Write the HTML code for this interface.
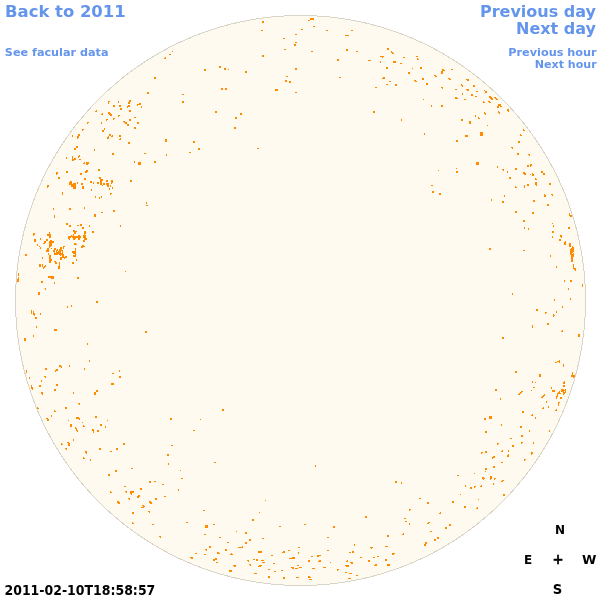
<!DOCTYPE html>
<html lang="en"><head><meta charset="utf-8"><title>Faculae 2011-02-10T18:58:57</title>
<style>
html,body{margin:0;padding:0;background:#fff;width:600px;height:600px;overflow:hidden}
svg{display:block}
text{font-family:"DejaVu Sans","Liberation Sans",sans-serif;font-weight:bold}
.lnk{fill:#6495ed}
.big{font-size:16px}
.sm{font-size:11px}
.blk{fill:#000}
</style></head><body>
<svg width="600" height="600" viewBox="0 0 600 600">
<rect width="600" height="600" fill="#fff"/>
<circle cx="300.5" cy="300.5" r="285.5" fill="#fffaf0" shape-rendering="crispEdges"/>
<path fill="#d9d4c8" shape-rendering="crispEdges" d="M284 15h33v1h-33zM271 16h13v1h-13zM317 16h13v1h-13zM263 17h8v1h-8zM330 17h8v1h-8zM256 18h7v1h-7zM338 18h7v1h-7zM250 19h6v1h-6zM345 19h6v1h-6zM245 20h5v1h-5zM351 20h5v1h-5zM240 21h5v1h-5zM356 21h5v1h-5zM235 22h5v1h-5zM361 22h5v1h-5zM231 23h5v1h-5zM365 23h5v1h-5zM227 24h4v1h-4zM370 24h4v1h-4zM224 25h4v1h-4zM373 25h4v1h-4zM220 26h4v1h-4zM377 26h4v1h-4zM217 27h3v1h-3zM381 27h3v1h-3zM214 28h3v1h-3zM384 28h3v1h-3zM211 29h3v1h-3zM387 29h3v1h-3zM208 30h3v1h-3zM390 30h3v1h-3zM205 31h3v1h-3zM393 31h3v1h-3zM202 32h3v1h-3zM396 32h3v1h-3zM199 33h3v1h-3zM399 33h3v1h-3zM197 34h3v1h-3zM401 34h3v1h-3zM194 35h3v1h-3zM404 35h3v1h-3zM192 36h2v1h-2zM407 36h2v1h-2zM189 37h3v1h-3zM409 37h3v1h-3zM187 38h3v1h-3zM411 38h3v1h-3zM185 39h2v1h-2zM414 39h2v1h-2zM183 40h2v1h-2zM416 40h2v1h-2zM180 41h3v1h-3zM418 41h3v1h-3zM178 42h3v1h-3zM420 42h3v1h-3zM176 43h2v1h-2zM423 43h2v1h-2zM174 44h2v1h-2zM425 44h2v1h-2zM172 45h2v1h-2zM427 45h2v1h-2zM170 46h2v1h-2zM429 46h2v1h-2zM168 47h2v1h-2zM431 47h2v1h-2zM166 48h2v1h-2zM433 48h2v1h-2zM164 49h3v1h-3zM434 49h3v1h-3zM163 50h2v1h-2zM436 50h2v1h-2zM161 51h2v1h-2zM438 51h2v1h-2zM159 52h2v1h-2zM440 52h2v1h-2zM157 53h2v1h-2zM442 53h2v1h-2zM156 54h2v1h-2zM443 54h2v1h-2zM154 55h2v1h-2zM445 55h2v1h-2zM152 56h2v1h-2zM447 56h2v1h-2zM151 57h2v1h-2zM448 57h2v1h-2zM149 58h2v1h-2zM450 58h2v1h-2zM147 59h2v1h-2zM452 59h2v1h-2zM146 60h2v1h-2zM453 60h2v1h-2zM144 61h2v1h-2zM455 61h2v1h-2zM143 62h2v1h-2zM456 62h2v1h-2zM141 63h2v1h-2zM458 63h2v1h-2zM140 64h2v1h-2zM459 64h2v1h-2zM138 65h2v1h-2zM461 65h2v1h-2zM137 66h2v1h-2zM462 66h2v1h-2zM136 67h1v1h-1zM464 67h1v1h-1zM134 68h2v1h-2zM465 68h2v1h-2zM133 69h1v1h-1zM467 69h1v1h-1zM131 70h2v1h-2zM468 70h2v1h-2zM130 71h2v1h-2zM469 71h2v1h-2zM129 72h1v1h-1zM471 72h1v1h-1zM127 73h2v1h-2zM472 73h2v1h-2zM126 74h2v1h-2zM473 74h2v1h-2zM125 75h1v1h-1zM475 75h1v1h-1zM123 76h2v1h-2zM476 76h2v1h-2zM122 77h2v1h-2zM477 77h2v1h-2zM121 78h2v1h-2zM478 78h2v1h-2zM120 79h1v1h-1zM480 79h1v1h-1zM119 80h1v1h-1zM481 80h1v1h-1zM117 81h2v1h-2zM482 81h2v1h-2zM116 82h2v1h-2zM483 82h2v1h-2zM115 83h2v1h-2zM484 83h2v1h-2zM114 84h1v1h-1zM486 84h1v1h-1zM113 85h1v1h-1zM487 85h1v1h-1zM112 86h1v1h-1zM488 86h1v1h-1zM110 87h2v1h-2zM489 87h2v1h-2zM109 88h2v1h-2zM490 88h2v1h-2zM108 89h2v1h-2zM491 89h2v1h-2zM107 90h2v1h-2zM492 90h2v1h-2zM106 91h1v1h-1zM494 91h1v1h-1zM105 92h1v1h-1zM495 92h1v1h-1zM104 93h1v1h-1zM496 93h1v1h-1zM103 94h1v1h-1zM497 94h1v1h-1zM102 95h1v1h-1zM498 95h1v1h-1zM101 96h1v1h-1zM499 96h1v1h-1zM100 97h1v1h-1zM500 97h1v1h-1zM99 98h1v1h-1zM501 98h1v1h-1zM98 99h1v1h-1zM502 99h1v1h-1zM97 100h1v1h-1zM503 100h1v1h-1zM96 101h1v1h-1zM504 101h1v1h-1zM95 102h1v1h-1zM505 102h1v1h-1zM94 103h1v1h-1zM506 103h1v1h-1zM93 104h1v1h-1zM507 104h1v1h-1zM92 105h1v1h-1zM508 105h1v1h-1zM91 106h1v1h-1zM509 106h1v1h-1zM90 107h1v1h-1zM510 107h1v1h-1zM89 108h2v1h-2zM510 108h2v1h-2zM88 109h2v1h-2zM511 109h2v1h-2zM87 110h2v1h-2zM512 110h2v1h-2zM87 111h1v1h-1zM513 111h1v1h-1zM86 112h1v1h-1zM514 112h1v1h-1zM85 113h1v1h-1zM515 113h1v1h-1zM84 114h1v1h-1zM516 114h1v1h-1zM83 115h1v1h-1zM517 115h1v1h-1zM82 116h2v1h-2zM517 116h2v1h-2zM81 117h2v1h-2zM518 117h2v1h-2zM81 118h1v1h-1zM519 118h1v1h-1zM80 119h1v1h-1zM520 119h1v1h-1zM79 120h1v1h-1zM521 120h1v1h-1zM78 121h1v1h-1zM522 121h1v1h-1zM77 122h2v1h-2zM522 122h2v1h-2zM76 123h2v1h-2zM523 123h2v1h-2zM76 124h1v1h-1zM524 124h1v1h-1zM75 125h1v1h-1zM525 125h1v1h-1zM74 126h1v1h-1zM526 126h1v1h-1zM73 127h2v1h-2zM526 127h2v1h-2zM73 128h1v1h-1zM527 128h1v1h-1zM72 129h1v1h-1zM528 129h1v1h-1zM71 130h1v1h-1zM529 130h1v1h-1zM70 131h2v1h-2zM529 131h2v1h-2zM70 132h1v1h-1zM530 132h1v1h-1zM69 133h1v1h-1zM531 133h1v1h-1zM68 134h1v1h-1zM532 134h1v1h-1zM68 135h1v1h-1zM532 135h1v1h-1zM67 136h1v1h-1zM533 136h1v1h-1zM66 137h1v1h-1zM534 137h1v1h-1zM65 138h2v1h-2zM534 138h2v1h-2zM65 139h1v1h-1zM535 139h1v1h-1zM64 140h1v1h-1zM536 140h1v1h-1zM63 141h2v1h-2zM536 141h2v1h-2zM63 142h1v1h-1zM537 142h1v1h-1zM62 143h1v1h-1zM538 143h1v1h-1zM61 144h2v1h-2zM538 144h2v1h-2zM61 145h1v1h-1zM539 145h1v1h-1zM60 146h1v1h-1zM540 146h1v1h-1zM59 147h2v1h-2zM540 147h2v1h-2zM59 148h1v1h-1zM541 148h1v1h-1zM58 149h1v1h-1zM542 149h1v1h-1zM58 150h1v1h-1zM542 150h1v1h-1zM57 151h1v1h-1zM543 151h1v1h-1zM56 152h2v1h-2zM543 152h2v1h-2zM56 153h1v1h-1zM544 153h1v1h-1zM55 154h1v1h-1zM545 154h1v1h-1zM55 155h1v1h-1zM545 155h1v1h-1zM54 156h1v1h-1zM546 156h1v1h-1zM53 157h2v1h-2zM546 157h2v1h-2zM53 158h1v1h-1zM547 158h1v1h-1zM52 159h1v1h-1zM548 159h1v1h-1zM52 160h1v1h-1zM548 160h1v1h-1zM51 161h1v1h-1zM549 161h1v1h-1zM51 162h1v1h-1zM549 162h1v1h-1zM50 163h1v1h-1zM550 163h1v1h-1zM49 164h2v1h-2zM550 164h2v1h-2zM49 165h1v1h-1zM551 165h1v1h-1zM48 166h2v1h-2zM551 166h2v1h-2zM48 167h1v1h-1zM552 167h1v1h-1zM47 168h1v1h-1zM553 168h1v1h-1zM47 169h1v1h-1zM553 169h1v1h-1zM46 170h1v1h-1zM554 170h1v1h-1zM46 171h1v1h-1zM554 171h1v1h-1zM45 172h1v1h-1zM555 172h1v1h-1zM45 173h1v1h-1zM555 173h1v1h-1zM44 174h1v1h-1zM556 174h1v1h-1zM44 175h1v1h-1zM556 175h1v1h-1zM43 176h1v1h-1zM557 176h1v1h-1zM43 177h1v1h-1zM557 177h1v1h-1zM42 178h1v1h-1zM558 178h1v1h-1zM42 179h1v1h-1zM558 179h1v1h-1zM41 180h2v1h-2zM558 180h2v1h-2zM41 181h1v1h-1zM559 181h1v1h-1zM41 182h1v1h-1zM559 182h1v1h-1zM40 183h1v1h-1zM560 183h1v1h-1zM40 184h1v1h-1zM560 184h1v1h-1zM39 185h1v1h-1zM561 185h1v1h-1zM39 186h1v1h-1zM561 186h1v1h-1zM38 187h1v1h-1zM562 187h1v1h-1zM38 188h1v1h-1zM562 188h1v1h-1zM37 189h2v1h-2zM562 189h2v1h-2zM37 190h1v1h-1zM563 190h1v1h-1zM37 191h1v1h-1zM563 191h1v1h-1zM36 192h1v1h-1zM564 192h1v1h-1zM36 193h1v1h-1zM564 193h1v1h-1zM35 194h1v1h-1zM565 194h1v1h-1zM35 195h1v1h-1zM565 195h1v1h-1zM35 196h1v1h-1zM565 196h1v1h-1zM34 197h1v1h-1zM566 197h1v1h-1zM34 198h1v1h-1zM566 198h1v1h-1zM33 199h2v1h-2zM566 199h2v1h-2zM33 200h1v1h-1zM567 200h1v1h-1zM33 201h1v1h-1zM567 201h1v1h-1zM32 202h1v1h-1zM568 202h1v1h-1zM32 203h1v1h-1zM568 203h1v1h-1zM32 204h1v1h-1zM568 204h1v1h-1zM31 205h1v1h-1zM569 205h1v1h-1zM31 206h1v1h-1zM569 206h1v1h-1zM31 207h1v1h-1zM569 207h1v1h-1zM30 208h1v1h-1zM570 208h1v1h-1zM30 209h1v1h-1zM570 209h1v1h-1zM30 210h1v1h-1zM570 210h1v1h-1zM29 211h1v1h-1zM571 211h1v1h-1zM29 212h1v1h-1zM571 212h1v1h-1zM29 213h1v1h-1zM571 213h1v1h-1zM28 214h1v1h-1zM572 214h1v1h-1zM28 215h1v1h-1zM572 215h1v1h-1zM28 216h1v1h-1zM572 216h1v1h-1zM27 217h1v1h-1zM573 217h1v1h-1zM27 218h1v1h-1zM573 218h1v1h-1zM27 219h1v1h-1zM573 219h1v1h-1zM26 220h1v1h-1zM574 220h1v1h-1zM26 221h1v1h-1zM574 221h1v1h-1zM26 222h1v1h-1zM574 222h1v1h-1zM26 223h1v1h-1zM574 223h1v1h-1zM25 224h1v1h-1zM575 224h1v1h-1zM25 225h1v1h-1zM575 225h1v1h-1zM25 226h1v1h-1zM575 226h1v1h-1zM24 227h2v1h-2zM575 227h2v1h-2zM24 228h1v1h-1zM576 228h1v1h-1zM24 229h1v1h-1zM576 229h1v1h-1zM24 230h1v1h-1zM576 230h1v1h-1zM23 231h1v1h-1zM577 231h1v1h-1zM23 232h1v1h-1zM577 232h1v1h-1zM23 233h1v1h-1zM577 233h1v1h-1zM23 234h1v1h-1zM577 234h1v1h-1zM22 235h2v1h-2zM577 235h2v1h-2zM22 236h1v1h-1zM578 236h1v1h-1zM22 237h1v1h-1zM578 237h1v1h-1zM22 238h1v1h-1zM578 238h1v1h-1zM22 239h1v1h-1zM578 239h1v1h-1zM21 240h1v1h-1zM579 240h1v1h-1zM21 241h1v1h-1zM579 241h1v1h-1zM21 242h1v1h-1zM579 242h1v1h-1zM21 243h1v1h-1zM579 243h1v1h-1zM21 244h1v1h-1zM579 244h1v1h-1zM20 245h1v1h-1zM580 245h1v1h-1zM20 246h1v1h-1zM580 246h1v1h-1zM20 247h1v1h-1zM580 247h1v1h-1zM20 248h1v1h-1zM580 248h1v1h-1zM20 249h1v1h-1zM580 249h1v1h-1zM19 250h1v1h-1zM581 250h1v1h-1zM19 251h1v1h-1zM581 251h1v1h-1zM19 252h1v1h-1zM581 252h1v1h-1zM19 253h1v1h-1zM581 253h1v1h-1zM19 254h1v1h-1zM581 254h1v1h-1zM19 255h1v1h-1zM581 255h1v1h-1zM18 256h1v1h-1zM582 256h1v1h-1zM18 257h1v1h-1zM582 257h1v1h-1zM18 258h1v1h-1zM582 258h1v1h-1zM18 259h1v1h-1zM582 259h1v1h-1zM18 260h1v1h-1zM582 260h1v1h-1zM18 261h1v1h-1zM582 261h1v1h-1zM18 262h1v1h-1zM582 262h1v1h-1zM17 263h1v1h-1zM583 263h1v1h-1zM17 264h1v1h-1zM583 264h1v1h-1zM17 265h1v1h-1zM583 265h1v1h-1zM17 266h1v1h-1zM583 266h1v1h-1zM17 267h1v1h-1zM583 267h1v1h-1zM17 268h1v1h-1zM583 268h1v1h-1zM17 269h1v1h-1zM583 269h1v1h-1zM17 270h1v1h-1zM583 270h1v1h-1zM16 271h1v1h-1zM584 271h1v1h-1zM16 272h1v1h-1zM584 272h1v1h-1zM16 273h1v1h-1zM584 273h1v1h-1zM16 274h1v1h-1zM584 274h1v1h-1zM16 275h1v1h-1zM584 275h1v1h-1zM16 276h1v1h-1zM584 276h1v1h-1zM16 277h1v1h-1zM584 277h1v1h-1zM16 278h1v1h-1zM584 278h1v1h-1zM16 279h1v1h-1zM584 279h1v1h-1zM16 280h1v1h-1zM584 280h1v1h-1zM16 281h1v1h-1zM584 281h1v1h-1zM16 282h1v1h-1zM584 282h1v1h-1zM16 283h1v1h-1zM584 283h1v1h-1zM15 284h1v1h-1zM585 284h1v1h-1zM15 285h1v1h-1zM585 285h1v1h-1zM15 286h1v1h-1zM585 286h1v1h-1zM15 287h1v1h-1zM585 287h1v1h-1zM15 288h1v1h-1zM585 288h1v1h-1zM15 289h1v1h-1zM585 289h1v1h-1zM15 290h1v1h-1zM585 290h1v1h-1zM15 291h1v1h-1zM585 291h1v1h-1zM15 292h1v1h-1zM585 292h1v1h-1zM15 293h1v1h-1zM585 293h1v1h-1zM15 294h1v1h-1zM585 294h1v1h-1zM15 295h1v1h-1zM585 295h1v1h-1zM15 296h1v1h-1zM585 296h1v1h-1zM15 297h1v1h-1zM585 297h1v1h-1zM15 298h1v1h-1zM585 298h1v1h-1zM15 299h1v1h-1zM585 299h1v1h-1zM15 300h1v1h-1zM585 300h1v1h-1zM15 301h1v1h-1zM585 301h1v1h-1zM15 302h1v1h-1zM585 302h1v1h-1zM15 303h1v1h-1zM585 303h1v1h-1zM15 304h1v1h-1zM585 304h1v1h-1zM15 305h1v1h-1zM585 305h1v1h-1zM15 306h1v1h-1zM585 306h1v1h-1zM15 307h1v1h-1zM585 307h1v1h-1zM15 308h1v1h-1zM585 308h1v1h-1zM15 309h1v1h-1zM585 309h1v1h-1zM15 310h1v1h-1zM585 310h1v1h-1zM15 311h1v1h-1zM585 311h1v1h-1zM15 312h1v1h-1zM585 312h1v1h-1zM15 313h1v1h-1zM585 313h1v1h-1zM15 314h1v1h-1zM585 314h1v1h-1zM15 315h1v1h-1zM585 315h1v1h-1zM15 316h1v1h-1zM585 316h1v1h-1zM16 317h1v1h-1zM584 317h1v1h-1zM16 318h1v1h-1zM584 318h1v1h-1zM16 319h1v1h-1zM584 319h1v1h-1zM16 320h1v1h-1zM584 320h1v1h-1zM16 321h1v1h-1zM584 321h1v1h-1zM16 322h1v1h-1zM584 322h1v1h-1zM16 323h1v1h-1zM584 323h1v1h-1zM16 324h1v1h-1zM584 324h1v1h-1zM16 325h1v1h-1zM584 325h1v1h-1zM16 326h1v1h-1zM584 326h1v1h-1zM16 327h1v1h-1zM584 327h1v1h-1zM16 328h1v1h-1zM584 328h1v1h-1zM16 329h1v1h-1zM584 329h1v1h-1zM17 330h1v1h-1zM583 330h1v1h-1zM17 331h1v1h-1zM583 331h1v1h-1zM17 332h1v1h-1zM583 332h1v1h-1zM17 333h1v1h-1zM583 333h1v1h-1zM17 334h1v1h-1zM583 334h1v1h-1zM17 335h1v1h-1zM583 335h1v1h-1zM17 336h1v1h-1zM583 336h1v1h-1zM17 337h1v1h-1zM583 337h1v1h-1zM18 338h1v1h-1zM582 338h1v1h-1zM18 339h1v1h-1zM582 339h1v1h-1zM18 340h1v1h-1zM582 340h1v1h-1zM18 341h1v1h-1zM582 341h1v1h-1zM18 342h1v1h-1zM582 342h1v1h-1zM18 343h1v1h-1zM582 343h1v1h-1zM18 344h1v1h-1zM582 344h1v1h-1zM19 345h1v1h-1zM581 345h1v1h-1zM19 346h1v1h-1zM581 346h1v1h-1zM19 347h1v1h-1zM581 347h1v1h-1zM19 348h1v1h-1zM581 348h1v1h-1zM19 349h1v1h-1zM581 349h1v1h-1zM19 350h1v1h-1zM581 350h1v1h-1zM20 351h1v1h-1zM580 351h1v1h-1zM20 352h1v1h-1zM580 352h1v1h-1zM20 353h1v1h-1zM580 353h1v1h-1zM20 354h1v1h-1zM580 354h1v1h-1zM20 355h1v1h-1zM580 355h1v1h-1zM21 356h1v1h-1zM579 356h1v1h-1zM21 357h1v1h-1zM579 357h1v1h-1zM21 358h1v1h-1zM579 358h1v1h-1zM21 359h1v1h-1zM579 359h1v1h-1zM21 360h1v1h-1zM579 360h1v1h-1zM22 361h1v1h-1zM578 361h1v1h-1zM22 362h1v1h-1zM578 362h1v1h-1zM22 363h1v1h-1zM578 363h1v1h-1zM22 364h1v1h-1zM578 364h1v1h-1zM22 365h2v1h-2zM577 365h2v1h-2zM23 366h1v1h-1zM577 366h1v1h-1zM23 367h1v1h-1zM577 367h1v1h-1zM23 368h1v1h-1zM577 368h1v1h-1zM23 369h1v1h-1zM577 369h1v1h-1zM24 370h1v1h-1zM576 370h1v1h-1zM24 371h1v1h-1zM576 371h1v1h-1zM24 372h1v1h-1zM576 372h1v1h-1zM24 373h2v1h-2zM575 373h2v1h-2zM25 374h1v1h-1zM575 374h1v1h-1zM25 375h1v1h-1zM575 375h1v1h-1zM25 376h1v1h-1zM575 376h1v1h-1zM26 377h1v1h-1zM574 377h1v1h-1zM26 378h1v1h-1zM574 378h1v1h-1zM26 379h1v1h-1zM574 379h1v1h-1zM26 380h1v1h-1zM574 380h1v1h-1zM27 381h1v1h-1zM573 381h1v1h-1zM27 382h1v1h-1zM573 382h1v1h-1zM27 383h1v1h-1zM573 383h1v1h-1zM28 384h1v1h-1zM572 384h1v1h-1zM28 385h1v1h-1zM572 385h1v1h-1zM28 386h1v1h-1zM572 386h1v1h-1zM29 387h1v1h-1zM571 387h1v1h-1zM29 388h1v1h-1zM571 388h1v1h-1zM29 389h1v1h-1zM571 389h1v1h-1zM30 390h1v1h-1zM570 390h1v1h-1zM30 391h1v1h-1zM570 391h1v1h-1zM30 392h1v1h-1zM570 392h1v1h-1zM31 393h1v1h-1zM569 393h1v1h-1zM31 394h1v1h-1zM569 394h1v1h-1zM31 395h1v1h-1zM569 395h1v1h-1zM32 396h1v1h-1zM568 396h1v1h-1zM32 397h1v1h-1zM568 397h1v1h-1zM32 398h1v1h-1zM568 398h1v1h-1zM33 399h1v1h-1zM567 399h1v1h-1zM33 400h1v1h-1zM567 400h1v1h-1zM33 401h2v1h-2zM566 401h2v1h-2zM34 402h1v1h-1zM566 402h1v1h-1zM34 403h1v1h-1zM566 403h1v1h-1zM35 404h1v1h-1zM565 404h1v1h-1zM35 405h1v1h-1zM565 405h1v1h-1zM35 406h1v1h-1zM565 406h1v1h-1zM36 407h1v1h-1zM564 407h1v1h-1zM36 408h1v1h-1zM564 408h1v1h-1zM37 409h1v1h-1zM563 409h1v1h-1zM37 410h1v1h-1zM563 410h1v1h-1zM37 411h2v1h-2zM562 411h2v1h-2zM38 412h1v1h-1zM562 412h1v1h-1zM38 413h1v1h-1zM562 413h1v1h-1zM39 414h1v1h-1zM561 414h1v1h-1zM39 415h1v1h-1zM561 415h1v1h-1zM40 416h1v1h-1zM560 416h1v1h-1zM40 417h1v1h-1zM560 417h1v1h-1zM41 418h1v1h-1zM559 418h1v1h-1zM41 419h1v1h-1zM559 419h1v1h-1zM41 420h2v1h-2zM558 420h2v1h-2zM42 421h1v1h-1zM558 421h1v1h-1zM42 422h1v1h-1zM558 422h1v1h-1zM43 423h1v1h-1zM557 423h1v1h-1zM43 424h1v1h-1zM557 424h1v1h-1zM44 425h1v1h-1zM556 425h1v1h-1zM44 426h1v1h-1zM556 426h1v1h-1zM45 427h1v1h-1zM555 427h1v1h-1zM45 428h1v1h-1zM555 428h1v1h-1zM46 429h1v1h-1zM554 429h1v1h-1zM46 430h1v1h-1zM554 430h1v1h-1zM47 431h1v1h-1zM553 431h1v1h-1zM47 432h1v1h-1zM553 432h1v1h-1zM48 433h1v1h-1zM552 433h1v1h-1zM48 434h2v1h-2zM551 434h2v1h-2zM49 435h1v1h-1zM551 435h1v1h-1zM49 436h2v1h-2zM550 436h2v1h-2zM50 437h1v1h-1zM550 437h1v1h-1zM51 438h1v1h-1zM549 438h1v1h-1zM51 439h1v1h-1zM549 439h1v1h-1zM52 440h1v1h-1zM548 440h1v1h-1zM52 441h1v1h-1zM548 441h1v1h-1zM53 442h1v1h-1zM547 442h1v1h-1zM53 443h2v1h-2zM546 443h2v1h-2zM54 444h1v1h-1zM546 444h1v1h-1zM55 445h1v1h-1zM545 445h1v1h-1zM55 446h1v1h-1zM545 446h1v1h-1zM56 447h1v1h-1zM544 447h1v1h-1zM56 448h2v1h-2zM543 448h2v1h-2zM57 449h1v1h-1zM543 449h1v1h-1zM58 450h1v1h-1zM542 450h1v1h-1zM58 451h1v1h-1zM542 451h1v1h-1zM59 452h1v1h-1zM541 452h1v1h-1zM59 453h2v1h-2zM540 453h2v1h-2zM60 454h1v1h-1zM540 454h1v1h-1zM61 455h1v1h-1zM539 455h1v1h-1zM61 456h2v1h-2zM538 456h2v1h-2zM62 457h1v1h-1zM538 457h1v1h-1zM63 458h1v1h-1zM537 458h1v1h-1zM63 459h2v1h-2zM536 459h2v1h-2zM64 460h1v1h-1zM536 460h1v1h-1zM65 461h1v1h-1zM535 461h1v1h-1zM65 462h2v1h-2zM534 462h2v1h-2zM66 463h1v1h-1zM534 463h1v1h-1zM67 464h1v1h-1zM533 464h1v1h-1zM68 465h1v1h-1zM532 465h1v1h-1zM68 466h1v1h-1zM532 466h1v1h-1zM69 467h1v1h-1zM531 467h1v1h-1zM70 468h1v1h-1zM530 468h1v1h-1zM70 469h2v1h-2zM529 469h2v1h-2zM71 470h1v1h-1zM529 470h1v1h-1zM72 471h1v1h-1zM528 471h1v1h-1zM73 472h1v1h-1zM527 472h1v1h-1zM73 473h2v1h-2zM526 473h2v1h-2zM74 474h1v1h-1zM526 474h1v1h-1zM75 475h1v1h-1zM525 475h1v1h-1zM76 476h1v1h-1zM524 476h1v1h-1zM76 477h2v1h-2zM523 477h2v1h-2zM77 478h2v1h-2zM522 478h2v1h-2zM78 479h1v1h-1zM522 479h1v1h-1zM79 480h1v1h-1zM521 480h1v1h-1zM80 481h1v1h-1zM520 481h1v1h-1zM81 482h1v1h-1zM519 482h1v1h-1zM81 483h2v1h-2zM518 483h2v1h-2zM82 484h2v1h-2zM517 484h2v1h-2zM83 485h1v1h-1zM517 485h1v1h-1zM84 486h1v1h-1zM516 486h1v1h-1zM85 487h1v1h-1zM515 487h1v1h-1zM86 488h1v1h-1zM514 488h1v1h-1zM87 489h1v1h-1zM513 489h1v1h-1zM87 490h2v1h-2zM512 490h2v1h-2zM88 491h2v1h-2zM511 491h2v1h-2zM89 492h2v1h-2zM510 492h2v1h-2zM90 493h1v1h-1zM510 493h1v1h-1zM91 494h1v1h-1zM509 494h1v1h-1zM92 495h1v1h-1zM508 495h1v1h-1zM93 496h1v1h-1zM507 496h1v1h-1zM94 497h1v1h-1zM506 497h1v1h-1zM95 498h1v1h-1zM505 498h1v1h-1zM96 499h1v1h-1zM504 499h1v1h-1zM97 500h1v1h-1zM503 500h1v1h-1zM98 501h1v1h-1zM502 501h1v1h-1zM99 502h1v1h-1zM501 502h1v1h-1zM100 503h1v1h-1zM500 503h1v1h-1zM101 504h1v1h-1zM499 504h1v1h-1zM102 505h1v1h-1zM498 505h1v1h-1zM103 506h1v1h-1zM497 506h1v1h-1zM104 507h1v1h-1zM496 507h1v1h-1zM105 508h1v1h-1zM495 508h1v1h-1zM106 509h1v1h-1zM494 509h1v1h-1zM107 510h2v1h-2zM492 510h2v1h-2zM108 511h2v1h-2zM491 511h2v1h-2zM109 512h2v1h-2zM490 512h2v1h-2zM110 513h2v1h-2zM489 513h2v1h-2zM112 514h1v1h-1zM488 514h1v1h-1zM113 515h1v1h-1zM487 515h1v1h-1zM114 516h1v1h-1zM486 516h1v1h-1zM115 517h2v1h-2zM484 517h2v1h-2zM116 518h2v1h-2zM483 518h2v1h-2zM117 519h2v1h-2zM482 519h2v1h-2zM119 520h1v1h-1zM481 520h1v1h-1zM120 521h1v1h-1zM480 521h1v1h-1zM121 522h2v1h-2zM478 522h2v1h-2zM122 523h2v1h-2zM477 523h2v1h-2zM123 524h2v1h-2zM476 524h2v1h-2zM125 525h1v1h-1zM475 525h1v1h-1zM126 526h2v1h-2zM473 526h2v1h-2zM127 527h2v1h-2zM472 527h2v1h-2zM129 528h1v1h-1zM471 528h1v1h-1zM130 529h2v1h-2zM469 529h2v1h-2zM131 530h2v1h-2zM468 530h2v1h-2zM133 531h1v1h-1zM467 531h1v1h-1zM134 532h2v1h-2zM465 532h2v1h-2zM136 533h1v1h-1zM464 533h1v1h-1zM137 534h2v1h-2zM462 534h2v1h-2zM138 535h2v1h-2zM461 535h2v1h-2zM140 536h2v1h-2zM459 536h2v1h-2zM141 537h2v1h-2zM458 537h2v1h-2zM143 538h2v1h-2zM456 538h2v1h-2zM144 539h2v1h-2zM455 539h2v1h-2zM146 540h2v1h-2zM453 540h2v1h-2zM147 541h2v1h-2zM452 541h2v1h-2zM149 542h2v1h-2zM450 542h2v1h-2zM151 543h2v1h-2zM448 543h2v1h-2zM152 544h2v1h-2zM447 544h2v1h-2zM154 545h2v1h-2zM445 545h2v1h-2zM156 546h2v1h-2zM443 546h2v1h-2zM157 547h2v1h-2zM442 547h2v1h-2zM159 548h2v1h-2zM440 548h2v1h-2zM161 549h2v1h-2zM438 549h2v1h-2zM163 550h2v1h-2zM436 550h2v1h-2zM164 551h3v1h-3zM434 551h3v1h-3zM166 552h2v1h-2zM433 552h2v1h-2zM168 553h2v1h-2zM431 553h2v1h-2zM170 554h2v1h-2zM429 554h2v1h-2zM172 555h2v1h-2zM427 555h2v1h-2zM174 556h2v1h-2zM425 556h2v1h-2zM176 557h2v1h-2zM423 557h2v1h-2zM178 558h3v1h-3zM420 558h3v1h-3zM180 559h3v1h-3zM418 559h3v1h-3zM183 560h2v1h-2zM416 560h2v1h-2zM185 561h2v1h-2zM414 561h2v1h-2zM187 562h3v1h-3zM411 562h3v1h-3zM189 563h3v1h-3zM409 563h3v1h-3zM192 564h2v1h-2zM407 564h2v1h-2zM194 565h3v1h-3zM404 565h3v1h-3zM197 566h3v1h-3zM401 566h3v1h-3zM199 567h3v1h-3zM399 567h3v1h-3zM202 568h3v1h-3zM396 568h3v1h-3zM205 569h3v1h-3zM393 569h3v1h-3zM208 570h3v1h-3zM390 570h3v1h-3zM211 571h3v1h-3zM387 571h3v1h-3zM214 572h3v1h-3zM384 572h3v1h-3zM217 573h3v1h-3zM381 573h3v1h-3zM220 574h4v1h-4zM377 574h4v1h-4zM224 575h4v1h-4zM373 575h4v1h-4zM227 576h4v1h-4zM370 576h4v1h-4zM231 577h5v1h-5zM365 577h5v1h-5zM235 578h5v1h-5zM361 578h5v1h-5zM240 579h5v1h-5zM356 579h5v1h-5zM245 580h5v1h-5zM351 580h5v1h-5zM250 581h6v1h-6zM345 581h6v1h-6zM256 582h7v1h-7zM338 582h7v1h-7zM263 583h8v1h-8zM330 583h8v1h-8zM271 584h13v1h-13zM317 584h13v1h-13zM284 585h33v1h-33z"/>
<g fill="#ff8c00" shape-rendering="crispEdges"><rect x="172" y="51" width="1" height="1"/><rect x="169" y="54" width="2" height="1"/><rect x="165" y="57" width="1" height="1"/><rect x="164" y="58" width="2" height="1"/><rect x="154" y="77" width="2" height="2"/><rect x="147" y="92" width="2" height="2"/><rect x="182" y="94" width="2" height="1"/><rect x="262" y="21" width="2" height="2"/><rect x="261" y="30" width="2" height="1"/><rect x="295" y="34" width="2" height="1"/><rect x="283" y="38" width="2" height="1"/><rect x="295" y="42" width="2" height="1"/><rect x="294" y="44" width="2" height="2"/><rect x="284" y="49" width="2" height="1"/><rect x="262" y="55" width="2" height="2"/><rect x="295" y="68" width="2" height="2"/><rect x="219" y="66" width="2" height="2"/><rect x="224" y="68" width="2" height="2"/><rect x="228" y="69" width="1" height="1"/><rect x="204" y="69" width="2" height="2"/><rect x="245" y="71" width="2" height="2"/><rect x="286" y="76" width="2" height="1"/><rect x="285" y="80" width="2" height="2"/><rect x="289" y="81" width="2" height="2"/><rect x="221" y="88" width="2" height="2"/><rect x="225" y="88" width="2" height="2"/><rect x="275" y="89" width="3" height="2"/><rect x="295" y="92" width="2" height="1"/><rect x="310" y="18" width="4" height="2"/><rect x="308" y="20" width="2" height="1"/><rect x="313" y="26" width="2" height="1"/><rect x="301" y="29" width="2" height="1"/><rect x="326" y="30" width="2" height="1"/><rect x="351" y="30" width="2" height="1"/><rect x="345" y="35" width="4" height="1"/><rect x="346" y="49" width="2" height="2"/><rect x="311" y="51" width="2" height="1"/><rect x="356" y="51" width="2" height="1"/><rect x="337" y="59" width="2" height="2"/><rect x="387" y="48" width="2" height="2"/><rect x="368" y="60" width="3" height="1"/><rect x="380" y="61" width="1" height="2"/><rect x="393" y="61" width="3" height="2"/><rect x="386" y="67" width="2" height="2"/><rect x="339" y="77" width="2" height="1"/><rect x="389" y="81" width="2" height="1"/><rect x="386" y="84" width="2" height="1"/><rect x="395" y="84" width="2" height="2"/><rect x="375" y="87" width="2" height="1"/><rect x="403" y="57" width="2" height="1"/><rect x="416" y="56" width="2" height="1"/><rect x="400" y="63" width="2" height="1"/><rect x="412" y="68" width="1" height="1"/><rect x="420" y="67" width="2" height="2"/><rect x="408" y="72" width="2" height="2"/><rect x="451" y="69" width="2" height="1"/><rect x="422" y="78" width="2" height="2"/><rect x="426" y="83" width="2" height="2"/><rect x="466" y="79" width="1" height="1"/><rect x="467" y="79" width="2" height="2"/><rect x="468" y="80" width="1" height="1"/><rect x="455" y="89" width="2" height="1"/><rect x="466" y="89" width="1" height="1"/><rect x="467" y="89" width="2" height="2"/><rect x="468" y="90" width="1" height="1"/><rect x="476" y="91" width="2" height="1"/><rect x="462" y="93" width="1" height="2"/><rect x="471" y="94" width="2" height="2"/><rect x="475" y="96" width="2" height="1"/><rect x="464" y="99" width="2" height="1"/><rect x="423" y="99" width="1" height="1"/><rect x="96" y="110" width="1" height="1"/><rect x="95" y="111" width="2" height="1"/><rect x="72" y="135" width="1" height="2"/><rect x="76" y="146" width="2" height="2"/><rect x="74" y="148" width="2" height="2"/><rect x="94" y="149" width="1" height="2"/><rect x="66" y="157" width="1" height="2"/><rect x="56" y="174" width="1" height="1"/><rect x="56" y="173" width="1" height="1"/><rect x="56" y="172" width="2" height="2"/><rect x="57" y="172" width="1" height="1"/><rect x="58" y="177" width="2" height="2"/><rect x="47" y="187" width="1" height="1"/><rect x="47" y="185" width="2" height="2"/><rect x="48" y="185" width="1" height="1"/><rect x="118" y="101" width="1" height="2"/><rect x="129" y="100" width="2" height="2"/><rect x="128" y="102" width="2" height="2"/><rect x="182" y="101" width="2" height="2"/><rect x="141" y="106" width="1" height="2"/><rect x="113" y="105" width="2" height="2"/><rect x="119" y="105" width="2" height="2"/><rect x="120" y="108" width="2" height="2"/><rect x="129" y="110" width="2" height="2"/><rect x="134" y="117" width="2" height="1"/><rect x="129" y="119" width="2" height="2"/><rect x="101" y="122" width="1" height="2"/><rect x="137" y="122" width="2" height="2"/><rect x="134" y="127" width="2" height="2"/><rect x="119" y="135" width="2" height="2"/><rect x="128" y="142" width="2" height="2"/><rect x="165" y="139" width="2" height="3"/><rect x="193" y="141" width="2" height="2"/><rect x="198" y="148" width="2" height="2"/><rect x="189" y="152" width="2" height="1"/><rect x="112" y="153" width="2" height="2"/><rect x="144" y="153" width="2" height="1"/><rect x="166" y="154" width="1" height="2"/><rect x="134" y="161" width="1" height="2"/><rect x="138" y="162" width="3" height="3"/><rect x="154" y="161" width="2" height="2"/><rect x="130" y="180" width="2" height="2"/><rect x="215" y="111" width="2" height="2"/><rect x="240" y="113" width="2" height="2"/><rect x="235" y="117" width="2" height="2"/><rect x="234" y="127" width="2" height="2"/><rect x="257" y="148" width="2" height="1"/><rect x="373" y="111" width="2" height="2"/><rect x="431" y="105" width="1" height="2"/><rect x="441" y="105" width="2" height="2"/><rect x="475" y="115" width="1" height="2"/><rect x="401" y="119" width="1" height="2"/><rect x="461" y="119" width="2" height="2"/><rect x="469" y="121" width="2" height="3"/><rect x="487" y="125" width="1" height="1"/><rect x="424" y="133" width="1" height="2"/><rect x="480" y="132" width="3" height="4"/><rect x="465" y="135" width="3" height="2"/><rect x="456" y="140" width="2" height="2"/><rect x="476" y="162" width="3" height="3"/><rect x="497" y="166" width="1" height="2"/><rect x="456" y="168" width="1" height="1"/><rect x="438" y="170" width="1" height="1"/><rect x="456" y="171" width="2" height="2"/><rect x="431" y="185" width="2" height="1"/><rect x="432" y="191" width="2" height="2"/><rect x="439" y="193" width="2" height="2"/><rect x="491" y="199" width="1" height="2"/><rect x="507" y="109" width="1" height="1"/><rect x="507" y="109" width="2" height="2"/><rect x="508" y="111" width="1" height="1"/><rect x="523" y="129" width="1" height="1"/><rect x="523" y="130" width="2" height="1"/><rect x="520" y="134" width="1" height="1"/><rect x="520" y="135" width="2" height="1"/><rect x="518" y="141" width="2" height="2"/><rect x="517" y="153" width="2" height="2"/><rect x="527" y="165" width="2" height="2"/><rect x="515" y="168" width="2" height="2"/><rect x="507" y="171" width="1" height="2"/><rect x="530" y="174" width="1" height="1"/><rect x="509" y="177" width="2" height="2"/><rect x="527" y="184" width="2" height="2"/><rect x="524" y="185" width="1" height="3"/><rect x="504" y="195" width="1" height="2"/><rect x="551" y="194" width="2" height="1"/><rect x="552" y="195" width="1" height="1"/><rect x="53" y="208" width="1" height="2"/><rect x="69" y="208" width="2" height="2"/><rect x="84" y="207" width="1" height="2"/><rect x="94" y="214" width="2" height="3"/><rect x="54" y="215" width="1" height="3"/><rect x="66" y="223" width="2" height="2"/><rect x="69" y="225" width="2" height="2"/><rect x="77" y="225" width="2" height="1"/><rect x="80" y="224" width="2" height="2"/><rect x="89" y="225" width="1" height="2"/><rect x="82" y="227" width="2" height="1"/><rect x="25" y="254" width="2" height="2"/><rect x="41" y="281" width="2" height="2"/><rect x="77" y="277" width="2" height="2"/><rect x="45" y="288" width="1" height="2"/><rect x="38" y="292" width="2" height="3"/><rect x="48" y="276" width="4" height="2"/><rect x="51" y="276" width="3" height="3"/><rect x="54" y="282" width="1" height="2"/><rect x="146" y="202" width="1" height="2"/><rect x="146" y="205" width="2" height="1"/><rect x="113" y="210" width="2" height="2"/><rect x="101" y="212" width="2" height="1"/><rect x="120" y="225" width="1" height="2"/><rect x="125" y="271" width="1" height="1"/><rect x="489" y="248" width="2" height="2"/><rect x="502" y="201" width="2" height="2"/><rect x="533" y="200" width="2" height="2"/><rect x="547" y="204" width="2" height="2"/><rect x="515" y="211" width="2" height="2"/><rect x="532" y="212" width="2" height="2"/><rect x="523" y="220" width="2" height="2"/><rect x="524" y="227" width="1" height="2"/><rect x="528" y="228" width="1" height="2"/><rect x="523" y="250" width="2" height="1"/><rect x="564" y="280" width="1" height="2"/><rect x="570" y="280" width="2" height="2"/><rect x="582" y="284" width="1" height="3"/><rect x="568" y="288" width="1" height="2"/><rect x="512" y="293" width="1" height="2"/><rect x="554" y="299" width="1" height="2"/><rect x="570" y="298" width="1" height="2"/><rect x="96" y="301" width="2" height="2"/><rect x="67" y="306" width="1" height="2"/><rect x="71" y="305" width="1" height="2"/><rect x="31" y="310" width="1" height="4"/><rect x="33" y="311" width="1" height="4"/><rect x="34" y="313" width="1" height="3"/><rect x="35" y="317" width="2" height="2"/><rect x="40" y="313" width="1" height="2"/><rect x="36" y="326" width="1" height="2"/><rect x="54" y="329" width="3" height="2"/><rect x="33" y="335" width="1" height="2"/><rect x="24" y="338" width="2" height="3"/><rect x="87" y="343" width="1" height="2"/><rect x="89" y="360" width="1" height="2"/><rect x="69" y="365" width="1" height="2"/><rect x="84" y="368" width="1" height="2"/><rect x="45" y="368" width="2" height="2"/><rect x="26" y="370" width="1" height="3"/><rect x="29" y="377" width="1" height="2"/><rect x="41" y="380" width="1" height="2"/><rect x="39" y="385" width="2" height="2"/><rect x="56" y="384" width="2" height="2"/><rect x="54" y="389" width="2" height="2"/><rect x="73" y="392" width="1" height="2"/><rect x="96" y="390" width="2" height="2"/><rect x="94" y="392" width="2" height="3"/><rect x="145" y="331" width="2" height="2"/><rect x="119" y="370" width="1" height="2"/><rect x="112" y="373" width="2" height="1"/><rect x="119" y="376" width="2" height="2"/><rect x="111" y="383" width="3" height="2"/><rect x="495" y="389" width="2" height="2"/><rect x="562" y="306" width="1" height="2"/><rect x="536" y="309" width="2" height="2"/><rect x="556" y="311" width="1" height="2"/><rect x="547" y="323" width="2" height="2"/><rect x="532" y="325" width="1" height="3"/><rect x="578" y="334" width="2" height="3"/><rect x="502" y="337" width="2" height="2"/><rect x="515" y="371" width="2" height="2"/><rect x="539" y="374" width="2" height="3"/><rect x="532" y="381" width="1" height="2"/><rect x="535" y="382" width="1" height="1"/><rect x="533" y="387" width="2" height="1"/><rect x="531" y="390" width="1" height="1"/><rect x="500" y="398" width="1" height="2"/><rect x="37" y="407" width="1" height="1"/><rect x="37" y="408" width="2" height="1"/><rect x="65" y="407" width="2" height="2"/><rect x="51" y="415" width="1" height="2"/><rect x="95" y="416" width="2" height="2"/><rect x="68" y="420" width="1" height="1"/><rect x="82" y="422" width="1" height="1"/><rect x="70" y="424" width="2" height="3"/><rect x="97" y="430" width="2" height="2"/><rect x="73" y="439" width="1" height="2"/><rect x="61" y="443" width="1" height="1"/><rect x="61" y="444" width="2" height="1"/><rect x="65" y="448" width="2" height="1"/><rect x="66" y="449" width="1" height="1"/><rect x="86" y="453" width="1" height="1"/><rect x="86" y="453" width="1" height="1"/><rect x="85" y="451" width="2" height="2"/><rect x="85" y="451" width="1" height="1"/><rect x="90" y="459" width="1" height="2"/><rect x="170" y="418" width="2" height="2"/><rect x="107" y="420" width="1" height="1"/><rect x="100" y="424" width="2" height="2"/><rect x="105" y="426" width="1" height="2"/><rect x="193" y="430" width="2" height="1"/><rect x="123" y="443" width="2" height="2"/><rect x="171" y="445" width="2" height="1"/><rect x="99" y="448" width="2" height="2"/><rect x="116" y="448" width="2" height="2"/><rect x="110" y="451" width="2" height="1"/><rect x="167" y="454" width="2" height="2"/><rect x="168" y="463" width="1" height="2"/><rect x="131" y="468" width="2" height="1"/><rect x="115" y="470" width="2" height="2"/><rect x="180" y="470" width="1" height="1"/><rect x="108" y="474" width="2" height="2"/><rect x="181" y="478" width="2" height="1"/><rect x="162" y="484" width="2" height="1"/><rect x="178" y="489" width="1" height="2"/><rect x="164" y="496" width="2" height="1"/><rect x="222" y="409" width="2" height="2"/><rect x="200" y="419" width="1" height="1"/><rect x="214" y="462" width="2" height="1"/><rect x="315" y="465" width="1" height="2"/><rect x="395" y="481" width="2" height="2"/><rect x="484" y="418" width="2" height="2"/><rect x="489" y="416" width="3" height="3"/><rect x="485" y="431" width="2" height="2"/><rect x="485" y="451" width="2" height="2"/><rect x="493" y="466" width="2" height="2"/><rect x="485" y="468" width="2" height="2"/><rect x="485" y="471" width="1" height="1"/><rect x="474" y="473" width="1" height="1"/><rect x="457" y="475" width="2" height="1"/><rect x="401" y="482" width="1" height="2"/><rect x="493" y="483" width="1" height="2"/><rect x="465" y="485" width="1" height="2"/><rect x="470" y="487" width="2" height="2"/><rect x="460" y="494" width="1" height="1"/><rect x="419" y="498" width="2" height="1"/><rect x="478" y="499" width="1" height="1"/><rect x="548" y="406" width="1" height="2"/><rect x="522" y="411" width="2" height="2"/><rect x="535" y="417" width="1" height="2"/><rect x="501" y="424" width="1" height="2"/><rect x="520" y="426" width="2" height="2"/><rect x="529" y="430" width="1" height="2"/><rect x="549" y="430" width="1" height="2"/><rect x="521" y="435" width="2" height="2"/><rect x="510" y="438" width="2" height="1"/><rect x="533" y="442" width="1" height="2"/><rect x="512" y="445" width="2" height="2"/><rect x="508" y="450" width="1" height="2"/><rect x="532" y="452" width="1" height="1"/><rect x="531" y="452" width="2" height="2"/><rect x="531" y="454" width="1" height="1"/><rect x="501" y="462" width="2" height="1"/><rect x="132" y="512" width="2" height="2"/><rect x="132" y="522" width="1" height="1"/><rect x="132" y="523" width="2" height="1"/><rect x="152" y="524" width="2" height="1"/><rect x="186" y="522" width="2" height="1"/><rect x="159" y="536" width="2" height="1"/><rect x="160" y="537" width="1" height="1"/><rect x="195" y="553" width="2" height="1"/><rect x="192" y="558" width="1" height="1"/><rect x="191" y="557" width="2" height="2"/><rect x="190" y="557" width="1" height="1"/><rect x="265" y="500" width="1" height="1"/><rect x="203" y="510" width="2" height="1"/><rect x="259" y="512" width="1" height="1"/><rect x="252" y="519" width="2" height="2"/><rect x="213" y="524" width="2" height="1"/><rect x="205" y="525" width="3" height="3"/><rect x="279" y="526" width="2" height="1"/><rect x="236" y="531" width="1" height="1"/><rect x="245" y="532" width="2" height="2"/><rect x="204" y="534" width="2" height="1"/><rect x="219" y="537" width="2" height="1"/><rect x="262" y="538" width="2" height="1"/><rect x="249" y="539" width="2" height="2"/><rect x="227" y="542" width="2" height="1"/><rect x="245" y="542" width="2" height="2"/><rect x="209" y="546" width="2" height="2"/><rect x="298" y="547" width="2" height="1"/><rect x="225" y="549" width="2" height="2"/><rect x="288" y="550" width="2" height="1"/><rect x="258" y="551" width="4" height="2"/><rect x="204" y="554" width="2" height="1"/><rect x="271" y="555" width="2" height="1"/><rect x="298" y="552" width="1" height="2"/><rect x="253" y="559" width="2" height="1"/><rect x="256" y="559" width="2" height="2"/><rect x="261" y="560" width="3" height="1"/><rect x="216" y="562" width="2" height="1"/><rect x="262" y="562" width="3" height="1"/><rect x="273" y="563" width="2" height="1"/><rect x="297" y="565" width="2" height="1"/><rect x="295" y="568" width="3" height="1"/><rect x="268" y="569" width="2" height="1"/><rect x="281" y="570" width="2" height="1"/><rect x="229" y="570" width="3" height="2"/><rect x="274" y="571" width="2" height="1"/><rect x="254" y="573" width="3" height="1"/><rect x="268" y="576" width="2" height="2"/><rect x="283" y="577" width="2" height="2"/><rect x="296" y="577" width="3" height="1"/><rect x="365" y="516" width="2" height="2"/><rect x="304" y="524" width="2" height="1"/><rect x="333" y="526" width="2" height="2"/><rect x="387" y="535" width="2" height="2"/><rect x="327" y="537" width="2" height="1"/><rect x="354" y="544" width="1" height="2"/><rect x="385" y="546" width="3" height="1"/><rect x="327" y="550" width="2" height="1"/><rect x="352" y="551" width="2" height="2"/><rect x="349" y="552" width="2" height="1"/><rect x="311" y="556" width="2" height="1"/><rect x="360" y="557" width="2" height="1"/><rect x="373" y="557" width="2" height="1"/><rect x="377" y="556" width="2" height="1"/><rect x="385" y="559" width="2" height="2"/><rect x="308" y="560" width="2" height="2"/><rect x="368" y="560" width="2" height="2"/><rect x="330" y="562" width="1" height="1"/><rect x="387" y="564" width="3" height="2"/><rect x="323" y="567" width="3" height="1"/><rect x="312" y="568" width="3" height="1"/><rect x="345" y="572" width="2" height="1"/><rect x="349" y="573" width="3" height="1"/><rect x="356" y="575" width="2" height="1"/><rect x="309" y="579" width="3" height="1"/><rect x="348" y="578" width="3" height="1"/><rect x="427" y="502" width="2" height="2"/><rect x="452" y="501" width="2" height="2"/><rect x="464" y="506" width="2" height="2"/><rect x="477" y="507" width="1" height="1"/><rect x="476" y="508" width="2" height="1"/><rect x="404" y="518" width="2" height="1"/><rect x="405" y="521" width="2" height="1"/><rect x="409" y="523" width="1" height="2"/><rect x="449" y="524" width="2" height="2"/><rect x="445" y="527" width="2" height="2"/><rect x="430" y="531" width="2" height="1"/><rect x="33" y="233" width="2" height="2"/><rect x="33" y="235" width="1" height="1"/><rect x="34" y="239" width="2" height="3"/><rect x="40" y="238" width="1" height="2"/><rect x="37" y="244" width="1" height="2"/><rect x="39" y="246" width="1" height="1"/><rect x="40" y="247" width="1" height="2"/><rect x="49" y="232" width="1" height="2"/><rect x="47" y="234" width="4" height="2"/><rect x="49" y="236" width="2" height="2"/><rect x="42" y="257" width="1" height="2"/><rect x="39" y="264" width="2" height="3"/><rect x="42" y="264" width="1" height="3"/><rect x="43" y="267" width="1" height="2"/><rect x="44" y="266" width="1" height="2"/><rect x="45" y="265" width="1" height="2"/><rect x="58" y="266" width="2" height="3"/><rect x="46" y="239" width="2" height="2"/><rect x="44" y="241" width="2" height="2"/><rect x="43" y="243" width="2" height="1"/><rect x="50" y="240" width="2" height="1"/><rect x="49" y="241" width="5" height="2"/><rect x="49" y="243" width="3" height="3"/><rect x="49" y="246" width="2" height="1"/><rect x="49" y="247" width="1" height="1"/><rect x="51" y="248" width="1" height="1"/><rect x="47" y="248" width="2" height="2"/><rect x="46" y="250" width="3" height="2"/><rect x="48" y="253" width="1" height="2"/><rect x="49" y="255" width="2" height="8"/><rect x="51" y="259" width="1" height="2"/><rect x="54" y="248" width="2" height="2"/><rect x="53" y="250" width="2" height="2"/><rect x="54" y="252" width="1" height="3"/><rect x="55" y="253" width="1" height="2"/><rect x="56" y="250" width="1" height="5"/><rect x="57" y="249" width="1" height="2"/><rect x="57" y="252" width="1" height="3"/><rect x="58" y="251" width="1" height="3"/><rect x="59" y="249" width="1" height="6"/><rect x="60" y="247" width="2" height="2"/><rect x="60" y="249" width="1" height="7"/><rect x="61" y="249" width="1" height="2"/><rect x="61" y="253" width="1" height="2"/><rect x="62" y="250" width="1" height="8"/><rect x="63" y="246" width="2" height="1"/><rect x="63" y="247" width="1" height="2"/><rect x="63" y="254" width="1" height="4"/><rect x="60" y="257" width="2" height="3"/><rect x="64" y="257" width="1" height="2"/><rect x="65" y="256" width="2" height="2"/><rect x="54" y="261" width="2" height="1"/><rect x="55" y="262" width="2" height="2"/><rect x="59" y="262" width="1" height="4"/><rect x="82" y="228" width="2" height="1"/><rect x="92" y="231" width="2" height="2"/><rect x="74" y="243" width="2" height="1"/><rect x="74" y="244" width="3" height="1"/><rect x="82" y="245" width="2" height="1"/><rect x="81" y="246" width="4" height="1"/><rect x="81" y="247" width="2" height="1"/><rect x="75" y="248" width="1" height="9"/><rect x="72" y="251" width="3" height="2"/><rect x="73" y="253" width="2" height="1"/><rect x="73" y="255" width="3" height="2"/><rect x="76" y="259" width="1" height="2"/><rect x="72" y="262" width="2" height="2"/><rect x="73" y="230" width="2" height="2"/><rect x="75" y="231" width="2" height="1"/><rect x="74" y="232" width="2" height="2"/><rect x="73" y="234" width="1" height="2"/><rect x="68" y="236" width="3" height="2"/><rect x="68" y="238" width="2" height="1"/><rect x="69" y="239" width="1" height="1"/><rect x="71" y="235" width="1" height="2"/><rect x="72" y="236" width="5" height="2"/><rect x="73" y="238" width="3" height="1"/><rect x="73" y="239" width="2" height="1"/><rect x="78" y="235" width="2" height="1"/><rect x="77" y="236" width="4" height="2"/><rect x="78" y="238" width="2" height="2"/><rect x="84" y="231" width="2" height="3"/><rect x="84" y="234" width="1" height="1"/><rect x="83" y="235" width="3" height="3"/><rect x="84" y="238" width="3" height="2"/><rect x="83" y="240" width="2" height="2"/><rect x="66" y="171" width="2" height="2"/><rect x="86" y="170" width="2" height="2"/><rect x="85" y="171" width="2" height="2"/><rect x="98" y="169" width="2" height="2"/><rect x="80" y="173" width="2" height="2"/><rect x="84" y="178" width="2" height="2"/><rect x="69" y="182" width="3" height="3"/><rect x="70" y="181" width="2" height="1"/><rect x="71" y="184" width="5" height="3"/><rect x="73" y="183" width="3" height="1"/><rect x="73" y="187" width="3" height="2"/><rect x="77" y="182" width="1" height="2"/><rect x="81" y="183" width="2" height="2"/><rect x="82" y="186" width="2" height="3"/><rect x="90" y="181" width="2" height="2"/><rect x="93" y="182" width="1" height="2"/><rect x="91" y="189" width="1" height="2"/><rect x="62" y="192" width="1" height="3"/><rect x="97" y="182" width="2" height="2"/><rect x="99" y="177" width="2" height="2"/><rect x="100" y="179" width="3" height="2"/><rect x="100" y="181" width="2" height="4"/><rect x="102" y="185" width="1" height="1"/><rect x="103" y="183" width="2" height="2"/><rect x="106" y="180" width="2" height="2"/><rect x="106" y="183" width="3" height="2"/><rect x="107" y="185" width="2" height="2"/><rect x="111" y="180" width="2" height="3"/><rect x="111" y="183" width="1" height="1"/><rect x="110" y="185" width="1" height="2"/><rect x="109" y="188" width="1" height="2"/><rect x="112" y="187" width="1" height="2"/><rect x="110" y="193" width="2" height="1"/><rect x="110" y="194" width="1" height="1"/><rect x="95" y="196" width="1" height="2"/><rect x="99" y="197" width="1" height="2"/><rect x="101" y="196" width="1" height="2"/><rect x="569" y="213" width="1" height="3"/><rect x="570" y="215" width="2" height="2"/><rect x="552" y="223" width="1" height="1"/><rect x="553" y="225" width="1" height="2"/><rect x="568" y="227" width="2" height="2"/><rect x="552" y="231" width="2" height="2"/><rect x="552" y="236" width="1" height="2"/><rect x="560" y="235" width="2" height="2"/><rect x="561" y="237" width="1" height="1"/><rect x="559" y="239" width="2" height="2"/><rect x="565" y="241" width="1" height="1"/><rect x="564" y="242" width="2" height="3"/><rect x="550" y="255" width="1" height="2"/><rect x="556" y="266" width="1" height="2"/><rect x="555" y="362" width="2" height="1"/><rect x="557" y="361" width="2" height="1"/><rect x="559" y="360" width="1" height="3"/><rect x="563" y="364" width="1" height="3"/><rect x="572" y="372" width="1" height="3"/><rect x="571" y="375" width="4" height="2"/><rect x="573" y="377" width="1" height="1"/><rect x="564" y="381" width="1" height="1"/><rect x="563" y="382" width="2" height="2"/><rect x="563" y="385" width="2" height="2"/><rect x="551" y="387" width="1" height="2"/><rect x="552" y="390" width="3" height="2"/><rect x="561" y="389" width="3" height="3"/><rect x="565" y="389" width="1" height="4"/><rect x="564" y="390" width="1" height="1"/><rect x="558" y="392" width="1" height="1"/><rect x="557" y="393" width="4" height="1"/><rect x="559" y="391" width="1" height="2"/><rect x="563" y="392" width="2" height="2"/><rect x="563" y="394" width="1" height="1"/><rect x="557" y="393" width="1" height="4"/><rect x="556" y="396" width="1" height="3"/><rect x="560" y="397" width="2" height="2"/><rect x="544" y="394" width="1" height="1"/><rect x="543" y="395" width="2" height="1"/><rect x="542" y="396" width="2" height="1"/><rect x="541" y="397" width="2" height="1"/><rect x="546" y="401" width="1" height="2"/><rect x="558" y="402" width="2" height="1"/><rect x="558" y="403" width="1" height="3"/><rect x="18" y="273" width="1" height="3"/><rect x="18" y="277" width="1" height="2"/><rect x="17" y="279" width="2" height="3"/><rect x="130" y="491" width="4" height="2"/><rect x="130" y="493" width="2" height="1"/><rect x="131" y="494" width="1" height="1"/><rect x="125" y="491" width="2" height="1"/><rect x="126" y="492" width="1" height="1"/><rect x="124" y="486" width="2" height="1"/><rect x="140" y="488" width="2" height="2"/><rect x="138" y="495" width="2" height="2"/><rect x="137" y="496" width="2" height="2"/><rect x="128" y="498" width="2" height="1"/><rect x="129" y="499" width="1" height="1"/><rect x="110" y="491" width="1" height="1"/><rect x="110" y="492" width="2" height="1"/><rect x="117" y="501" width="2" height="2"/><rect x="118" y="502" width="2" height="2"/><rect x="149" y="481" width="2" height="2"/><rect x="154" y="481" width="2" height="1"/><rect x="155" y="498" width="2" height="2"/><rect x="149" y="501" width="2" height="2"/><rect x="150" y="502" width="2" height="2"/><rect x="521" y="391" width="2" height="1"/><rect x="520" y="392" width="2" height="1"/><rect x="519" y="393" width="2" height="1"/><rect x="518" y="394" width="2" height="1"/><rect x="59" y="365" width="2" height="1"/><rect x="59" y="366" width="3" height="1"/><rect x="61" y="367" width="1" height="1"/><rect x="56" y="369" width="2" height="1"/><rect x="55" y="370" width="3" height="1"/><rect x="55" y="371" width="1" height="1"/><rect x="238" y="547" width="5" height="1"/><rect x="242" y="546" width="1" height="1"/><rect x="217" y="552" width="2" height="1"/><rect x="217" y="553" width="3" height="1"/><rect x="231" y="553" width="1" height="1"/><rect x="230" y="554" width="3" height="1"/><rect x="215" y="558" width="2" height="2"/><rect x="213" y="559" width="2" height="2"/><rect x="205" y="549" width="2" height="1"/><rect x="206" y="550" width="1" height="1"/><rect x="233" y="565" width="3" height="1"/><rect x="234" y="566" width="2" height="1"/><rect x="247" y="560" width="2" height="1"/><rect x="248" y="561" width="1" height="1"/><rect x="249" y="564" width="2" height="1"/><rect x="250" y="565" width="1" height="1"/><rect x="108" y="112" width="2" height="1"/><rect x="108" y="113" width="3" height="1"/><rect x="109" y="114" width="3" height="1"/><rect x="110" y="115" width="2" height="1"/><rect x="123" y="121" width="2" height="1"/><rect x="124" y="122" width="3" height="1"/><rect x="125" y="123" width="2" height="1"/><rect x="127" y="124" width="2" height="2"/><rect x="128" y="105" width="2" height="2"/><rect x="127" y="106" width="1" height="2"/><rect x="139" y="103" width="2" height="2"/><rect x="137" y="104" width="2" height="1"/><rect x="137" y="105" width="1" height="1"/><rect x="108" y="101" width="2" height="1"/><rect x="108" y="102" width="1" height="2"/><rect x="102" y="113" width="1" height="1"/><rect x="101" y="114" width="2" height="1"/><rect x="118" y="115" width="2" height="1"/><rect x="118" y="116" width="1" height="1"/><rect x="113" y="118" width="2" height="1"/><rect x="113" y="119" width="1" height="1"/><rect x="106" y="119" width="2" height="1"/><rect x="106" y="120" width="1" height="1"/><rect x="104" y="128" width="1" height="2"/><rect x="102" y="130" width="2" height="2"/><rect x="109" y="134" width="2" height="2"/><rect x="112" y="135" width="1" height="1"/><rect x="111" y="136" width="2" height="1"/><rect x="108" y="136" width="1" height="1"/><rect x="107" y="137" width="2" height="2"/><rect x="120" y="138" width="1" height="1"/><rect x="119" y="139" width="2" height="1"/><rect x="87" y="122" width="2" height="1"/><rect x="87" y="123" width="1" height="1"/><rect x="82" y="129" width="2" height="1"/><rect x="82" y="130" width="1" height="1"/><rect x="78" y="134" width="2" height="2"/><rect x="77" y="136" width="2" height="2"/><rect x="77" y="138" width="1" height="1"/><rect x="72" y="156" width="1" height="3"/><rect x="72" y="159" width="2" height="2"/><rect x="74" y="158" width="2" height="2"/><rect x="79" y="155" width="1" height="1"/><rect x="78" y="156" width="2" height="1"/><rect x="78" y="157" width="1" height="1"/><rect x="79" y="159" width="2" height="1"/><rect x="84" y="162" width="1" height="1"/><rect x="83" y="163" width="2" height="1"/><rect x="86" y="162" width="3" height="2"/><rect x="86" y="164" width="2" height="1"/><rect x="473" y="85" width="2" height="2"/><rect x="484" y="90" width="1" height="1"/><rect x="485" y="91" width="2" height="2"/><rect x="489" y="96" width="2" height="1"/><rect x="489" y="97" width="3" height="1"/><rect x="490" y="98" width="3" height="1"/><rect x="491" y="99" width="2" height="1"/><rect x="494" y="97" width="2" height="1"/><rect x="495" y="98" width="2" height="1"/><rect x="496" y="99" width="2" height="1"/><rect x="461" y="84" width="1" height="1"/><rect x="461" y="85" width="2" height="1"/><rect x="462" y="86" width="1" height="1"/><rect x="455" y="97" width="2" height="1"/><rect x="455" y="98" width="3" height="1"/><rect x="483" y="101" width="1" height="1"/><rect x="483" y="102" width="2" height="1"/><rect x="488" y="101" width="2" height="1"/><rect x="489" y="102" width="2" height="1"/><rect x="498" y="104" width="3" height="2"/><rect x="500" y="106" width="2" height="1"/><rect x="497" y="106" width="2" height="2"/><rect x="498" y="111" width="1" height="1"/><rect x="498" y="112" width="2" height="1"/><rect x="499" y="113" width="1" height="1"/><rect x="484" y="112" width="1" height="1"/><rect x="484" y="113" width="2" height="1"/><rect x="485" y="114" width="1" height="1"/><rect x="478" y="117" width="1" height="1"/><rect x="478" y="118" width="2" height="1"/><rect x="31" y="385" width="1" height="2"/><rect x="31" y="387" width="2" height="2"/><rect x="32" y="389" width="1" height="1"/><rect x="41" y="392" width="2" height="2"/><rect x="42" y="394" width="1" height="1"/><rect x="44" y="376" width="2" height="1"/><rect x="45" y="377" width="1" height="1"/><rect x="78" y="403" width="2" height="1"/><rect x="79" y="404" width="1" height="1"/><rect x="54" y="410" width="1" height="1"/><rect x="54" y="411" width="2" height="1"/><rect x="46" y="418" width="2" height="1"/><rect x="47" y="419" width="2" height="2"/><rect x="76" y="417" width="3" height="2"/><rect x="79" y="418" width="1" height="2"/><rect x="75" y="427" width="1" height="2"/><rect x="76" y="428" width="1" height="3"/><rect x="77" y="430" width="1" height="2"/><rect x="83" y="425" width="1" height="1"/><rect x="83" y="426" width="2" height="1"/><rect x="92" y="429" width="2" height="2"/><rect x="93" y="431" width="1" height="2"/><rect x="67" y="442" width="2" height="1"/><rect x="68" y="443" width="2" height="3"/><rect x="83" y="457" width="1" height="1"/><rect x="83" y="458" width="2" height="1"/><rect x="497" y="443" width="2" height="1"/><rect x="497" y="444" width="1" height="1"/><rect x="521" y="442" width="2" height="1"/><rect x="521" y="443" width="1" height="1"/><rect x="481" y="452" width="2" height="1"/><rect x="481" y="453" width="1" height="1"/><rect x="502" y="450" width="1" height="1"/><rect x="501" y="451" width="2" height="1"/><rect x="508" y="454" width="1" height="1"/><rect x="507" y="455" width="2" height="2"/><rect x="493" y="456" width="2" height="1"/><rect x="492" y="457" width="3" height="1"/><rect x="492" y="458" width="1" height="1"/><rect x="524" y="459" width="2" height="1"/><rect x="524" y="460" width="1" height="1"/><rect x="482" y="477" width="2" height="1"/><rect x="482" y="478" width="3" height="1"/><rect x="483" y="479" width="1" height="1"/><rect x="490" y="476" width="2" height="3"/><rect x="490" y="479" width="1" height="1"/><rect x="494" y="478" width="2" height="1"/><rect x="494" y="479" width="1" height="1"/><rect x="502" y="480" width="2" height="1"/><rect x="501" y="481" width="2" height="1"/><rect x="481" y="485" width="1" height="1"/><rect x="480" y="486" width="2" height="1"/><rect x="474" y="486" width="2" height="1"/><rect x="474" y="487" width="1" height="1"/><rect x="503" y="494" width="2" height="2"/><rect x="283" y="551" width="2" height="1"/><rect x="282" y="552" width="3" height="1"/><rect x="289" y="558" width="3" height="1"/><rect x="292" y="557" width="3" height="2"/><rect x="291" y="567" width="3" height="1"/><rect x="292" y="568" width="2" height="1"/><rect x="299" y="567" width="3" height="1"/><rect x="259" y="565" width="3" height="1"/><rect x="258" y="566" width="3" height="1"/><rect x="317" y="555" width="4" height="1"/><rect x="317" y="556" width="2" height="1"/><rect x="319" y="560" width="2" height="1"/><rect x="318" y="561" width="3" height="1"/><rect x="308" y="576" width="2" height="1"/><rect x="308" y="577" width="3" height="1"/><rect x="370" y="547" width="3" height="1"/><rect x="371" y="548" width="1" height="1"/><rect x="347" y="560" width="1" height="1"/><rect x="346" y="561" width="2" height="1"/><rect x="350" y="562" width="3" height="1"/><rect x="351" y="563" width="2" height="1"/><rect x="345" y="565" width="4" height="1"/><rect x="346" y="566" width="3" height="1"/><rect x="337" y="569" width="2" height="1"/><rect x="337" y="570" width="1" height="1"/><rect x="375" y="564" width="2" height="1"/><rect x="374" y="565" width="3" height="1"/><rect x="409" y="509" width="2" height="1"/><rect x="409" y="510" width="1" height="1"/><rect x="428" y="522" width="2" height="1"/><rect x="427" y="523" width="2" height="1"/><rect x="403" y="533" width="1" height="1"/><rect x="402" y="534" width="2" height="1"/><rect x="437" y="537" width="2" height="2"/><rect x="434" y="539" width="2" height="2"/><rect x="425" y="542" width="2" height="2"/><rect x="424" y="544" width="2" height="2"/><rect x="392" y="553" width="3" height="1"/><rect x="392" y="554" width="2" height="1"/><rect x="440" y="512" width="1" height="1"/><rect x="439" y="513" width="2" height="1"/><rect x="511" y="147" width="2" height="1"/><rect x="512" y="148" width="1" height="1"/><rect x="528" y="154" width="2" height="1"/><rect x="529" y="155" width="1" height="1"/><rect x="530" y="164" width="2" height="2"/><rect x="530" y="166" width="1" height="1"/><rect x="502" y="169" width="2" height="1"/><rect x="503" y="170" width="1" height="1"/><rect x="523" y="172" width="2" height="1"/><rect x="523" y="173" width="3" height="1"/><rect x="524" y="174" width="2" height="1"/><rect x="532" y="173" width="1" height="1"/><rect x="532" y="174" width="2" height="2"/><rect x="541" y="171" width="2" height="2"/><rect x="543" y="173" width="2" height="2"/><rect x="535" y="178" width="1" height="1"/><rect x="535" y="179" width="2" height="1"/><rect x="535" y="182" width="2" height="2"/><rect x="535" y="184" width="1" height="1"/><rect x="536" y="184" width="1" height="2"/><rect x="549" y="183" width="2" height="2"/><rect x="515" y="186" width="1" height="1"/><rect x="515" y="187" width="2" height="1"/><rect x="544" y="194" width="1" height="1"/><rect x="544" y="195" width="2" height="2"/><rect x="391" y="51" width="1" height="1"/><rect x="391" y="52" width="2" height="1"/><rect x="392" y="53" width="2" height="1"/><rect x="380" y="56" width="4" height="1"/><rect x="382" y="57" width="1" height="1"/><rect x="383" y="77" width="2" height="1"/><rect x="382" y="78" width="3" height="1"/><rect x="417" y="58" width="1" height="1"/><rect x="417" y="59" width="2" height="1"/><rect x="414" y="80" width="2" height="1"/><rect x="415" y="81" width="2" height="1"/><rect x="442" y="69" width="2" height="1"/><rect x="442" y="70" width="3" height="1"/><rect x="441" y="71" width="2" height="1"/><rect x="441" y="72" width="2" height="2"/><rect x="434" y="75" width="2" height="1"/><rect x="435" y="76" width="2" height="1"/><rect x="448" y="78" width="2" height="1"/><rect x="449" y="79" width="2" height="1"/><rect x="441" y="87" width="2" height="1"/><rect x="442" y="88" width="1" height="1"/><rect x="455" y="97" width="2" height="1"/><rect x="455" y="98" width="3" height="1"/><rect x="543" y="407" width="1" height="1"/><rect x="542" y="408" width="2" height="1"/><rect x="532" y="414" width="1" height="1"/><rect x="531" y="415" width="2" height="1"/><rect x="556" y="409" width="1" height="1"/><rect x="555" y="410" width="2" height="1"/><rect x="142" y="505" width="2" height="1"/><rect x="143" y="506" width="2" height="1"/><rect x="141" y="507" width="3" height="1"/><rect x="148" y="511" width="2" height="1"/><rect x="149" y="512" width="1" height="1"/><rect x="545" y="312" width="2" height="1"/><rect x="545" y="313" width="1" height="1"/><rect x="553" y="314" width="1" height="3"/><rect x="554" y="315" width="1" height="1"/><rect x="562" y="330" width="1" height="1"/><rect x="561" y="331" width="2" height="1"/><rect x="569" y="243" width="2" height="4"/><rect x="570" y="249" width="1" height="6"/><rect x="571" y="248" width="1" height="14"/><rect x="572" y="246" width="1" height="7"/><rect x="572" y="254" width="1" height="8"/><rect x="573" y="247" width="1" height="5"/><rect x="573" y="253" width="1" height="4"/><rect x="573" y="264" width="1" height="5"/><rect x="574" y="268" width="1" height="2"/><rect x="575" y="268" width="1" height="3"/></g>
<g style="will-change:transform">
<text class="lnk big" x="5" y="17" textLength="120.7" lengthAdjust="spacingAndGlyphs">Back to 2011</text>
<text class="lnk sm" x="4.8" y="56" textLength="103.7" lengthAdjust="spacingAndGlyphs">See facular data</text>
<text class="lnk big" x="596" y="17" text-anchor="end">Previous day</text>
<text class="lnk big" x="596" y="34" text-anchor="end">Next day</text>
<text class="lnk sm" x="596.7" y="56" text-anchor="end" textLength="88.5" lengthAdjust="spacingAndGlyphs">Previous hour</text>
<text class="lnk sm" x="596.7" y="68" text-anchor="end" textLength="62" lengthAdjust="spacingAndGlyphs">Next hour</text>
<text class="blk" font-size="13.8" x="4.5" y="594.8" textLength="150.8" lengthAdjust="spacingAndGlyphs">2011-02-10T18:58:57</text>
<text class="blk" font-size="12" x="560" y="0" text-anchor="middle" transform="translate(0,534) scale(1,1.075)">N</text>
<text class="blk" font-size="12" x="528" y="0" text-anchor="middle" transform="translate(0,564) scale(1,1.075)">E</text>
<text class="blk" font-size="13.2" x="558.1" y="564.2" text-anchor="middle" stroke="#000" stroke-width="0.45">+</text>
<text class="blk" font-size="12" x="0" y="0" text-anchor="middle" transform="translate(589.2,564) scale(1.09,1.075)">W</text>
<text class="blk" font-size="12" x="0" y="0" text-anchor="middle" transform="translate(557.6,594.1) scale(1.1,1.14)">S</text>
</g>
</svg>
</body></html>
